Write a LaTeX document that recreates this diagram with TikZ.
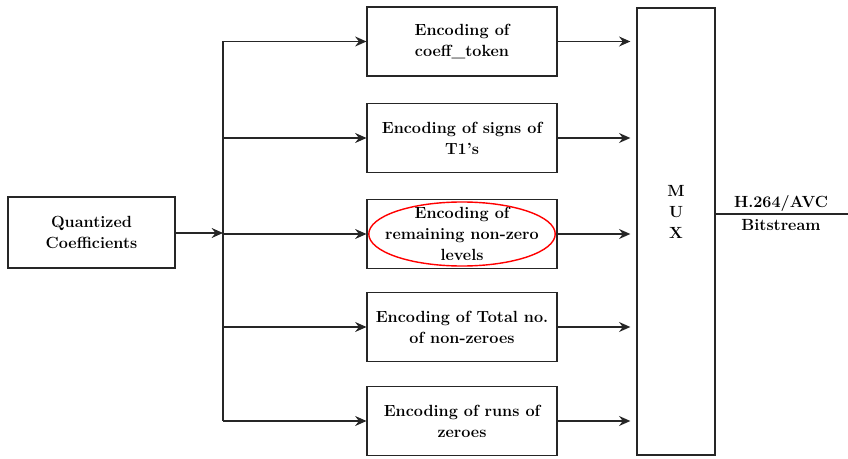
\documentclass[tikz,border=0pt]{standalone}
\usepackage{tikz}
\usetikzlibrary{positioning}
\usetikzlibrary{arrows.meta}

\tikzset{
  blk/.style={draw=black!85, line width=1.4pt, align=center, inner sep=0pt,
    font=\fontsize{11.5}{15}\selectfont\bfseries},
  encbox/.style={blk, minimum width=4.725cm, minimum height=1.725cm},
  arr/.style={black!85, line width=1.4pt, -{Stealth[length=8pt,width=7pt]}},
  lbl/.style={align=center, inner sep=0pt, font=\fontsize{11.5}{15}\selectfont\bfseries}
}

\begin{document}
\begin{tikzpicture}[x=0.025cm, y=-0.025cm]

\useasboundingbox (0,0) rectangle (848,459);

% input
\node[blk, minimum width=4.175cm, minimum height=1.775cm] (quant) at (91.5,232.5) {Quantized\\Coefficients};

% encoders
\node[encbox] (enc1) at (462,41.5) {Encoding of\\coeff\_token};
\node[encbox] (enc2) at (462,138) {Encoding of signs of\\T1's};
\node[encbox] (enc3) at (462,234) {Encoding of\\remaining non-zero\\levels};
\node[encbox] (enc4) at (462,327) {Encoding of Total no.\\of non-zeroes};
\node[encbox] (enc5) at (462,421) {Encoding of runs of\\zeroes};

% mux
\node[blk, minimum width=1.95cm, minimum height=11.175cm] (mux) at (676,231.5) {};
\node[lbl] (muxlbl) at (676,212) {M\\U\\X};

% branch
\coordinate (top) at (223,41.5);
\coordinate (bot) at (223,421);
\coordinate (mid) at (223,233);

\draw[arr] (quant.east |- mid) -- (mid);
\draw[black!85, line width=1.4pt] (top) -- (bot);

\foreach \i in {1,...,5}
{
\draw[arr] (top |- enc\i.west) -- (enc\i.west);
\draw[arr, shorten >=4pt] (enc\i.east) -- (enc\i.east -| mux.west);
}

% highlighted block
\draw[red, line width=1pt] (enc3.center) ellipse [x radius=2.33cm, y radius=0.8cm];

% output
\coordinate (out) at (848,214);
\draw[black!85, line width=1.4pt] (mux.east |- out) -- (out);
\node[lbl] (outtop) at (781,203) {H.264/AVC};
\node[lbl] (outbot) at (781,225) {Bitstream};

\end{tikzpicture}
\end{document}
